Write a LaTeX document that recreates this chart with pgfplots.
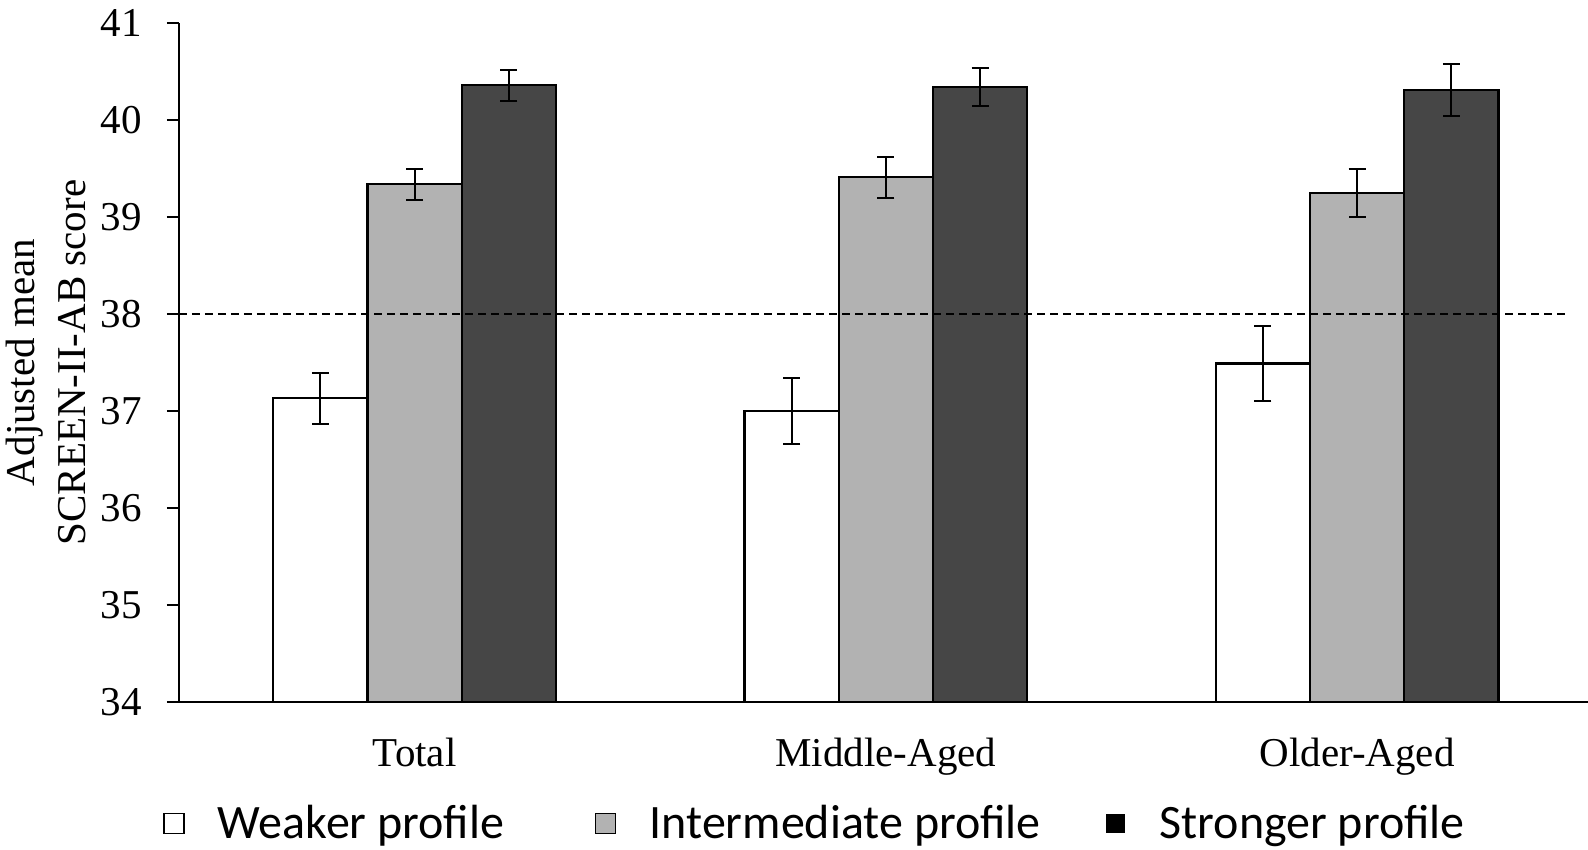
\documentclass[border=0pt]{standalone}
\usepackage{pgfplots}
\pgfplotsset{compat=1.18}
\usepackage{fontspec}
\setmainfont{Liberation Serif}
\newfontfamily\legendfont{Carlito}
\definecolor{bargray}{RGB}{178,178,178}
\definecolor{bardark}{RGB}{70,70,70}

\begin{document}
\begin{tikzpicture}
\begin{axis}[
  at={(0,0)}, anchor=south west,
  scale only axis, width=704.5pt, height=339.5pt,
  xmin=-0.5, xmax=2.49, ymin=34, ymax=41,
  axis x line*=bottom, axis y line*=left,
  axis line style={line width=1pt, -},
  xtick={0,1,2}, xticklabels={Total,Middle-Aged,Older-Aged},
  x tick style={draw=none},
  ytick={34,35,...,41},
  y tick style={line width=1pt, black},
  tick align=outside, major tick length=6pt,
  /pgf/number format/assume math mode=true,
  tick label style={font=\fontsize{20.5}{24}\selectfont},
  xticklabel style={yshift=-8.5pt},
  yticklabel style={xshift=-9pt},
  ylabel={Adjusted mean\\SCREEN-II-AB score},
  ylabel style={at={(axis description cs:-0.0945,0.5)}, anchor=center, align=center, font=\fontsize{20.5}{25.5}\selectfont},
  ybar=0pt, bar width=0.2,
  error bars/y dir=both, error bars/y explicit,
  error bars/error bar style={line width=1pt, black},
  error bars/error mark options={rotate=90, mark size=4.25pt, line width=1pt, black},
  legend style={at={(axis description cs:0.452,-0.179)}, anchor=center, draw=none, fill=none,
    legend columns=3, font=\legendfont\fontsize{24}{28}\selectfont,
    /tikz/every even column/.append style={column sep=0pt}},
  legend cell align=left,
]
\addplot[fill=white, draw=black, line width=1.1pt, bar shift=-0.2,
  legend image code/.code={\path[draw=none,fill=none] (0pt,0pt) -- (25pt,0pt);\draw[fill=white,draw=black,line width=0.8pt] (0pt,-5pt) rectangle (10pt,5pt);}]
  coordinates {(0,37.13) +- (0,0.26) (1,37.00) +- (0,0.34) (2,37.49) +- (0,0.39)};
\addlegendentry{\makebox[186.5pt][l]{Weaker profile}}
\addplot[fill=bargray, draw=black, line width=1.1pt, bar shift=0,
  legend image code/.code={\path[draw=none,fill=none] (0pt,0pt) -- (25pt,0pt);\draw[fill=bargray,draw=black,line width=0.8pt] (0pt,-5pt) rectangle (10pt,5pt);}]
  coordinates {(0,39.34) +- (0,0.16) (1,39.41) +- (0,0.21) (2,39.25) +- (0,0.25)};
\addlegendentry{\makebox[226pt][l]{Intermediate profile}}
\addplot[fill=bardark, draw=black, line width=1.1pt, bar shift=0.2,
  legend image code/.code={\path[draw=none,fill=none] (0pt,0pt) -- (25pt,0pt);\draw[fill=black,draw=black,line width=0.8pt] (0.5pt,-4.5pt) rectangle (9.5pt,4.5pt);}]
  coordinates {(0,40.36) +- (0,0.16) (1,40.34) +- (0,0.20) (2,40.31) +- (0,0.27)};
\addlegendentry{Stronger profile}
\addplot[sharp plot, black, line width=0.75pt, dash pattern=on 4pt off 2.5pt, forget plot, error bars/y dir=none]
  coordinates {(-0.5,38) (2.45,38)};
\end{axis}
\pgfresetboundingbox
\path (-89.5pt,-74pt) rectangle (704.5pt,351pt);
\end{tikzpicture}
\end{document}
